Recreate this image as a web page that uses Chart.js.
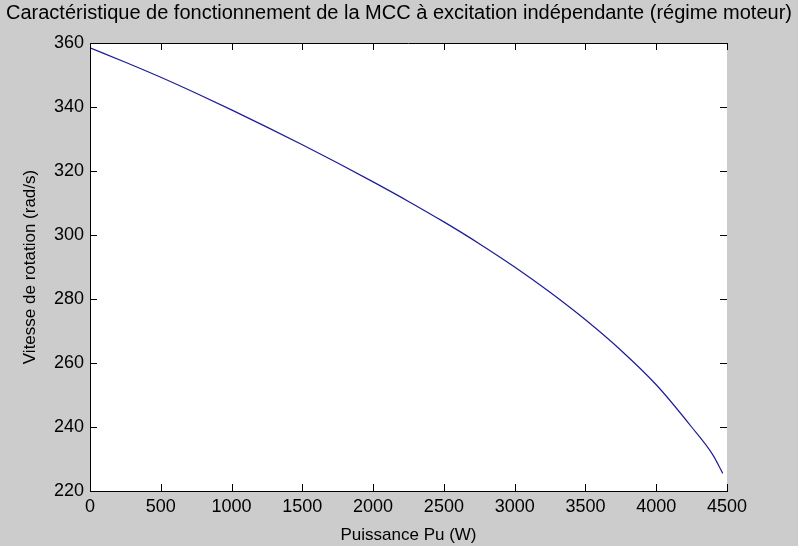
<!DOCTYPE html>
<html>
<head>
<meta charset="utf-8">
<script src="https://cdn.jsdelivr.net/npm/chart.js@4.4.1/dist/chart.umd.min.js"></script>
<style>
  body { margin: 0; background: #cccccc; }
  canvas { display: block; }
</style>
</head>
<body>
<canvas id="myChart" width="798" height="546"></canvas>
<script>
// data
const power = [0, 250, 500, 750, 1000, 1250, 1500, 1750, 2000, 2250, 2500, 2750, 3000, 3250, 3500, 3750, 4000, 4250, 4400, 4470];
const speed = [358.5, 354.0, 349.3, 344.3, 339.1, 333.7, 328.2, 322.5, 316.6, 310.5, 304.1, 297.3, 290.0, 282.1, 273.5, 264.0, 253.2, 240.0, 231.3, 225.5];

const xTicks = [0, 500, 1000, 1500, 2000, 2500, 3000, 3500, 4000, 4500];
const yTicks = [220, 240, 260, 280, 300, 320, 340, 360];

const titleText = "Caractéristique de fonctionnement de la MCC à excitation indépendante (régime moteur)";
const xTitle = "Puissance Pu (W)";
const yTitle = "Vitesse de rotation (rad/s)";

const font = "'Liberation Sans', Arial, sans-serif";

// gray figure + white axes, ticks pointing inward (matlab look)
const matlabBox = {
  id: 'matlabBox',
  beforeDraw(chart) {
    const c = chart.ctx;
    const a = chart.chartArea;
    c.save();
    c.fillStyle = '#cccccc';
    c.fillRect(0, 0, chart.width, chart.height);
    c.fillStyle = '#ffffff';
    c.fillRect(a.left, a.top, a.right - a.left, a.bottom - a.top);
    c.restore();
  },
  afterDraw(chart) {
    const c = chart.ctx;
    const a = chart.chartArea;
    const x = chart.scales.x;
    const y = chart.scales.y;
    const len = 7;
    c.save();
    c.strokeStyle = '#000000';
    c.lineWidth = 1;
    c.beginPath();
    // top border
    c.moveTo(a.left, a.top + 0.5);
    c.lineTo(a.right, a.top + 0.5);
    xTicks.forEach(v => {
      const px = Math.round(x.getPixelForValue(v)) + 0.5;
      c.moveTo(px, a.bottom);
      c.lineTo(px, a.bottom - len);
      c.moveTo(px, a.top);
      c.lineTo(px, a.top + len);
    });
    yTicks.forEach(v => {
      const py = Math.round(y.getPixelForValue(v)) + 0.5;
      c.moveTo(a.left, py);
      c.lineTo(a.left + len, py);
      c.moveTo(a.right, py);
      c.lineTo(a.right - len, py);
    });
    c.stroke();
    c.restore();
  }
};

const ctx = document.getElementById('myChart');

new Chart(ctx, {
  type: 'line',
  data: {
    datasets: [{
      label: 'Vitesse',
      data: power.map((p, i) => ({ x: p, y: speed[i] })),
      borderColor: '#1c1c96',
      backgroundColor: 'transparent',
      borderWidth: 1.2,
      pointRadius: 0,
      cubicInterpolationMode: 'monotone'
    }]
  },
  options: {
    responsive: false,
    animation: false,
    layout: { padding: 0 },
    plugins: {
      legend: { display: false },
      tooltip: { enabled: false },
      title: {
        display: true,
        text: titleText,
        color: '#000000',
        font: { family: font, size: 20, weight: 'normal' },
        padding: { top: 1, bottom: 18 }
      }
    },
    scales: {
      x: {
        type: 'linear',
        min: 0,
        max: 4500,
        afterBuildTicks: s => { s.ticks = xTicks.map(v => ({ value: v })); },
        afterFit: s => { s.height = 55; },
        ticks: {
          color: '#000000',
          font: { family: font, size: 18 },
          padding: 5,
          maxRotation: 0,
          callback: v => String(v)
        },
        grid: { display: false, drawTicks: false },
        border: { display: true, color: '#000000', width: 1 },
        title: {
          display: true,
          text: xTitle,
          color: '#000000',
          font: { family: font, size: 17 },
          padding: { top: 0, bottom: 0 }
        }
      },
      y: {
        type: 'linear',
        min: 220,
        max: 360,
        afterBuildTicks: s => { s.ticks = yTicks.map(v => ({ value: v })); },
        afterFit: s => { s.width = 90; },
        ticks: {
          color: '#000000',
          font: { family: font, size: 18 },
          padding: 6,
          callback: v => String(v)
        },
        grid: { display: false, drawTicks: false },
        border: { display: true, color: '#000000', width: 1 },
        title: {
          display: true,
          text: yTitle,
          color: '#000000',
          font: { family: font, size: 17 },
          padding: { top: 20, bottom: 0 }
        }
      },
      // empty right axis, only keeps room on the right side
      y2: {
        type: 'linear',
        position: 'right',
        min: 220,
        max: 360,
        afterFit: s => { s.width = 71; },
        ticks: { display: false },
        grid: { display: false, drawTicks: false },
        border: { display: false }
      }
    }
  },
  plugins: [matlabBox]
});
</script>
</body>
</html>
